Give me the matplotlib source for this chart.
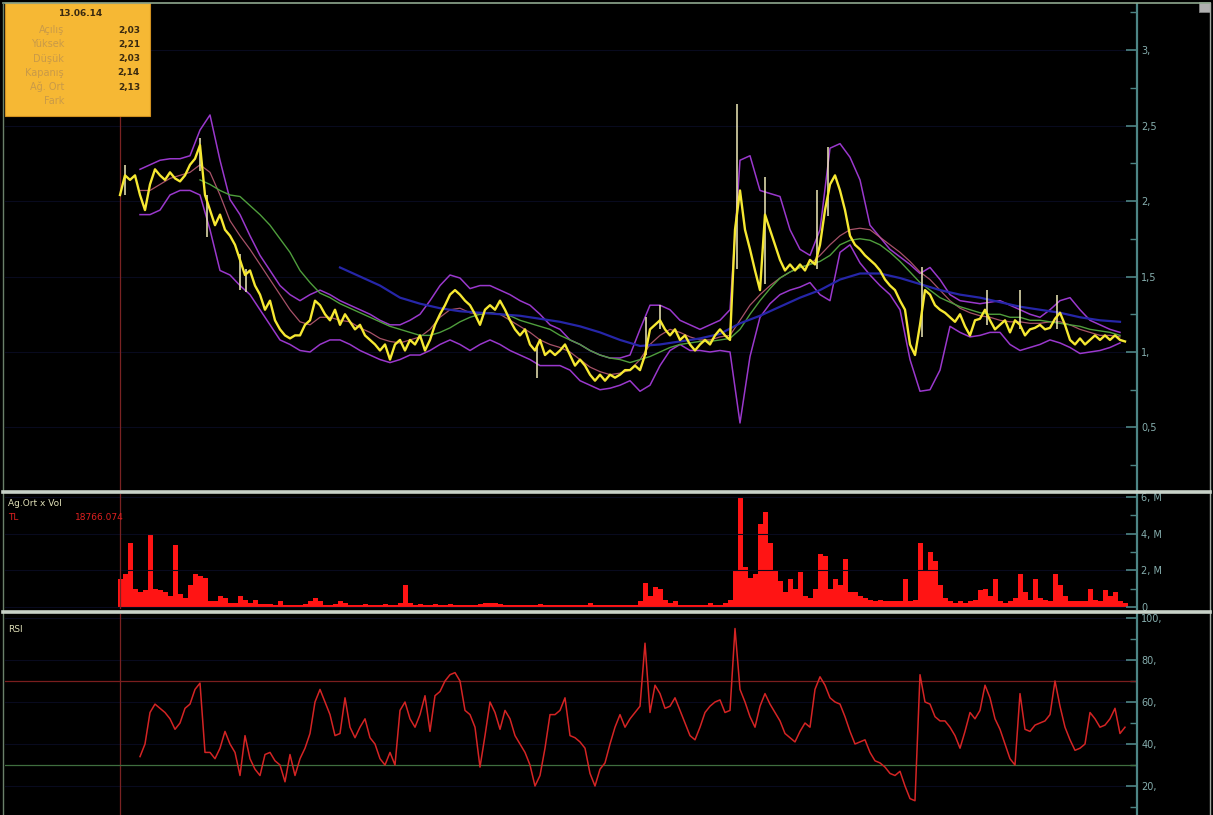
import numpy as np
import matplotlib
matplotlib.use('Agg')
import matplotlib.pyplot as plt
import matplotlib.transforms as mtransforms
from matplotlib.patches import Rectangle
from matplotlib.lines import Line2D
from matplotlib.ticker import MultipleLocator, FuncFormatter

# ---------------- data ----------------
# closing price, one sample every 5 bars starting at bar 0
close = [
    2.04, 2.17, 2.14, 2.17, 2.04, 1.94, 2.11, 2.21, 2.17, 2.14,
    2.19, 2.15, 2.13, 2.17, 2.24, 2.28, 2.37, 2.04, 1.94, 1.84,
    1.91, 1.81, 1.77, 1.71, 1.61, 1.51, 1.54, 1.44, 1.38, 1.28,
    1.34, 1.21, 1.15, 1.11, 1.09, 1.11, 1.11, 1.18, 1.21, 1.34,
    1.31, 1.25, 1.21, 1.28, 1.18, 1.25, 1.20, 1.15, 1.18, 1.11,
    1.08, 1.05, 1.01, 1.05, 0.95, 1.05, 1.08, 1.01, 1.08, 1.05,
    1.11, 1.01, 1.08, 1.18, 1.25, 1.31, 1.38, 1.41, 1.38, 1.34,
    1.31, 1.25, 1.18, 1.28, 1.31, 1.28, 1.34, 1.28, 1.21, 1.15,
    1.11, 1.15, 1.05, 1.01, 1.08, 0.98, 1.01, 0.98, 1.01, 1.05,
    0.98, 0.91, 0.95, 0.91, 0.85, 0.81, 0.85, 0.81, 0.85, 0.83,
    0.85, 0.88, 0.88, 0.91, 0.88, 0.98, 1.15, 1.18, 1.21, 1.15,
    1.11, 1.15, 1.08, 1.11, 1.05, 1.01, 1.05, 1.08, 1.05, 1.11,
    1.15, 1.11, 1.08, 1.81, 2.07, 1.81, 1.68, 1.54, 1.41, 1.91,
    1.81, 1.71, 1.61, 1.54, 1.58, 1.54, 1.58, 1.54, 1.61, 1.58,
    1.71, 1.94, 2.11, 2.17, 2.07, 1.94, 1.77, 1.71, 1.68, 1.64,
    1.61, 1.58, 1.54, 1.48, 1.44, 1.41, 1.34, 1.28, 1.05, 0.98,
    1.18, 1.41, 1.38, 1.31, 1.28, 1.26, 1.23, 1.20, 1.25, 1.17,
    1.11, 1.21, 1.22, 1.28, 1.21, 1.15, 1.18, 1.21, 1.13, 1.21,
    1.18, 1.11, 1.15, 1.16, 1.18, 1.15, 1.16, 1.22, 1.26, 1.18,
    1.08, 1.05, 1.09, 1.05, 1.08, 1.11, 1.08, 1.11, 1.08, 1.11,
    1.08, 1.07,
]
CLOSE_STEP = 5

# high / low wicks of notable bars
wick_bar = [5, 80, 87, 120, 126, 417, 526, 540, 617, 645, 697, 708, 802, 867, 900, 937]
wick_low = [2.04, 2.20, 1.76, 1.41, 1.40, 0.83, 0.98, 1.15, 1.55, 1.45, 1.55, 1.90, 1.10, 1.18, 1.15, 1.15]
wick_high = [2.24, 2.42, 2.04, 1.65, 1.55, 1.03, 1.23, 1.31, 2.64, 2.16, 2.07, 2.36, 1.56, 1.41, 1.41, 1.38]

# Bollinger bands, every 10 bars starting at bar 20
boll_upper = [
    2.21, 2.24, 2.27, 2.28, 2.28, 2.30, 2.47, 2.57, 2.27, 2.01,
    1.91, 1.77, 1.64, 1.54, 1.44, 1.38, 1.34, 1.38, 1.41, 1.38,
    1.34, 1.31, 1.28, 1.25, 1.21, 1.18, 1.18, 1.21, 1.25, 1.34,
    1.44, 1.51, 1.49, 1.42, 1.44, 1.44, 1.41, 1.38, 1.34, 1.31,
    1.25, 1.18, 1.15, 1.08, 1.05, 1.01, 0.98, 0.96, 0.96, 0.98,
    1.15, 1.31, 1.31, 1.28, 1.21, 1.18, 1.15, 1.18, 1.21, 1.28,
    2.27, 2.30, 2.07, 2.05, 2.03, 1.81, 1.68, 1.64, 1.81, 2.35,
    2.38, 2.29, 2.14, 1.84, 1.76, 1.68, 1.63, 1.58, 1.52, 1.56,
    1.48, 1.38, 1.34, 1.33, 1.32, 1.33, 1.34, 1.31, 1.28, 1.25,
    1.23, 1.28, 1.34, 1.36, 1.28, 1.21, 1.18, 1.15, 1.13,
]
boll_lower = [
    1.91, 1.91, 1.94, 2.04, 2.07, 2.07, 2.04, 1.81, 1.54, 1.51,
    1.44, 1.38, 1.28, 1.18, 1.08, 1.05, 1.01, 1.00, 1.05, 1.08,
    1.08, 1.05, 1.01, 0.98, 0.95, 0.93, 0.95, 0.98, 0.98, 1.01,
    1.05, 1.08, 1.05, 1.01, 1.05, 1.08, 1.05, 1.01, 0.98, 0.95,
    0.91, 0.91, 0.91, 0.88, 0.81, 0.78, 0.75, 0.76, 0.78, 0.81,
    0.74, 0.78, 0.91, 1.01, 1.05, 1.01, 1.01, 1.00, 1.01, 1.00,
    0.53, 0.97, 1.23, 1.32, 1.38, 1.41, 1.43, 1.46, 1.38, 1.34,
    1.66, 1.71, 1.59, 1.51, 1.44, 1.38, 1.28, 0.95, 0.74, 0.75,
    0.88, 1.17, 1.13, 1.10, 1.11, 1.13, 1.13, 1.05, 1.01, 1.03,
    1.05, 1.08, 1.06, 1.03, 0.99, 1.00, 1.01, 1.03, 1.06,
]
boll_mid = [
    2.07, 2.07, 2.11, 2.15, 2.17, 2.19, 2.24, 2.19, 2.04, 1.87,
    1.77, 1.68, 1.58, 1.48, 1.38, 1.28, 1.20, 1.18, 1.23, 1.23,
    1.21, 1.20, 1.16, 1.13, 1.09, 1.07, 1.06, 1.08, 1.10, 1.15,
    1.23, 1.28, 1.29, 1.26, 1.25, 1.26, 1.25, 1.21, 1.17, 1.13,
    1.08, 1.05, 1.03, 1.00, 0.95, 0.90, 0.87, 0.85, 0.86, 0.88,
    0.95, 1.05, 1.11, 1.15, 1.13, 1.10, 1.08, 1.08, 1.10, 1.11,
    1.21, 1.31, 1.38, 1.44, 1.49, 1.53, 1.56, 1.58, 1.64, 1.71,
    1.77, 1.81, 1.82, 1.81, 1.76, 1.71, 1.66, 1.60, 1.53, 1.48,
    1.41, 1.34, 1.29, 1.26, 1.24, 1.23, 1.21, 1.20, 1.20, 1.19,
    1.19, 1.20, 1.20, 1.18, 1.15, 1.13, 1.11, 1.11, 1.10,
]
BOLL_START, BOLL_STEP = 20, 10

# moving average (green), every 10 bars from bar 80
ma_mid = [
    2.14, 2.11, 2.07, 2.04, 2.03, 1.97, 1.91, 1.84, 1.75, 1.66,
    1.54, 1.46, 1.39, 1.36, 1.32, 1.29, 1.26, 1.23, 1.20, 1.17,
    1.15, 1.13, 1.11, 1.11, 1.13, 1.16, 1.20, 1.23, 1.25, 1.26,
    1.25, 1.24, 1.21, 1.19, 1.17, 1.15, 1.11, 1.08, 1.05, 1.01,
    0.98, 0.96, 0.95, 0.93, 0.95, 0.97, 1.00, 1.03, 1.05, 1.06,
    1.07, 1.07, 1.08, 1.09, 1.15, 1.25, 1.34, 1.42, 1.49, 1.53,
    1.56, 1.58, 1.60, 1.64, 1.71, 1.74, 1.75, 1.74, 1.71, 1.66,
    1.60, 1.53, 1.46, 1.41, 1.36, 1.33, 1.30, 1.28, 1.26, 1.25,
    1.25, 1.23, 1.23, 1.21, 1.21, 1.20, 1.19, 1.18, 1.17, 1.15,
    1.14, 1.13, 1.11,
]
MA_MID_START, MA_MID_STEP = 80, 10

# long moving average (blue), every 20 bars from bar 220
ma_long = [
    1.56, 1.50, 1.44, 1.36, 1.32, 1.29, 1.27, 1.26, 1.25, 1.24,
    1.22, 1.20, 1.17, 1.13, 1.08, 1.04, 1.05, 1.07, 1.09, 1.12,
    1.19, 1.24, 1.30, 1.36, 1.41, 1.48, 1.52, 1.52, 1.49, 1.45,
    1.41, 1.38, 1.36, 1.33, 1.30, 1.28, 1.26, 1.23, 1.21, 1.20,
]
MA_LONG_START, MA_LONG_STEP = 220, 20

# volume in millions, every 5 bars from bar 0
volume = [
    1.5, 1.8, 3.5, 1.0, 0.8, 0.9, 4.0, 1.0, 0.9, 0.8,
    0.6, 3.4, 0.7, 0.5, 1.2, 1.8, 1.7, 1.6, 0.3, 0.3,
    0.6, 0.5, 0.2, 0.2, 0.6, 0.4, 0.2, 0.4, 0.15, 0.15,
    0.15, 0.1, 0.3, 0.1, 0.1, 0.1, 0.1, 0.15, 0.3, 0.5,
    0.3, 0.1, 0.1, 0.15, 0.3, 0.2, 0.1, 0.1, 0.1, 0.15,
    0.1, 0.1, 0.1, 0.15, 0.1, 0.1, 0.2, 1.2, 0.2, 0.1,
    0.15, 0.1, 0.1, 0.15, 0.1, 0.1, 0.15, 0.1, 0.1, 0.1,
    0.1, 0.1, 0.15, 0.2, 0.2, 0.2, 0.15, 0.1, 0.1, 0.1,
    0.1, 0.1, 0.1, 0.1, 0.15, 0.1, 0.1, 0.1, 0.1, 0.1,
    0.1, 0.1, 0.1, 0.1, 0.2, 0.1, 0.1, 0.1, 0.1, 0.1,
    0.1, 0.1, 0.1, 0.1,
    0.3, 1.3, 0.6, 1.1, 1.0, 0.4, 0.2, 0.3, 0.1, 0.1,
    0.1, 0.1, 0.1, 0.1, 0.2, 0.1, 0.1, 0.2, 0.4, 2.0,
    6.0, 2.2, 1.6, 1.8, 4.5, 5.2, 3.5, 2.0, 1.4, 0.8,
    1.5, 1.0, 1.9, 0.6, 0.5, 1.0, 2.9, 2.8, 1.0, 1.5,
    1.2, 2.6, 0.8, 0.8, 0.6, 0.5, 0.4, 0.3, 0.4, 0.3,
    0.3, 0.3, 0.3, 1.5, 0.3, 0.4, 3.5, 2.0, 3.0, 2.5,
    1.2, 0.5, 0.3, 0.2, 0.3, 0.2, 0.3, 0.4, 0.9, 1.0,
    0.6, 1.5, 0.3, 0.2, 0.3, 0.5, 1.8, 0.8, 0.4, 1.5,
    0.5, 0.4, 0.3, 1.8, 1.2, 0.6, 0.3, 0.3, 0.3, 0.3,
    1.0, 0.4, 0.3, 0.9, 0.6, 0.8, 0.3, 0.2,
]
VOL_STEP = 5

# RSI, every 5 bars from bar 20
rsi = [
    34, 40, 55, 59, 57, 55, 52, 47, 50, 57,
    59, 66, 69, 36, 36, 33, 38, 46, 40, 36,
    25, 44, 33, 28, 25, 35, 36, 32, 30, 22,
    35, 25, 33, 38, 45, 60, 66, 60, 54, 44,
    45, 62, 48, 43, 48, 52, 43, 40, 33, 30,
    36, 30, 56, 60, 52, 48, 54, 63, 46, 63,
    65, 70, 73, 74, 70, 56, 54, 48, 29, 44,
    60, 55, 47, 56, 52, 44, 40, 36, 30, 20,
    25, 38, 54, 54, 56, 62, 44, 43, 41, 38,
    26, 20, 28, 31, 40, 48, 54, 48, 52, 55,
    58, 88, 55, 68, 64, 57, 58, 62, 56, 50,
    44, 42, 48, 55, 58, 60, 61, 55, 56, 95,
    66, 60, 53, 48, 58, 64, 59, 55, 51, 45,
    43, 41, 46, 50, 48, 66, 72, 68, 62, 60,
    59, 53, 46, 40, 41, 42, 36, 32, 31, 29,
    26, 25, 27, 20, 14, 13, 73, 60, 59, 53,
    51, 51, 48, 44, 38, 46, 55, 52, 56, 68,
    62, 52, 47, 40, 33, 30, 64, 47, 46, 49,
    50, 51, 54, 70, 58, 48, 42, 37, 38, 40,
    55, 52, 48, 49, 52, 57, 45, 48,
]
RSI_START, RSI_STEP = 20, 5
RSI_UPPER, RSI_LOWER = 70, 30

info_date = "13.06.14"
info_labels = ["Açılış", "Yüksek", "Düşük", "Kapanış", "Ağ. Ort", "Fark"]
info_values = ["2,03", "2,21", "2,03", "2,14", "2,13", ""]

# ---------------- figure ----------------
W, H = 1213, 815
fig = plt.figure(figsize=(W / 100, H / 100), dpi=100, facecolor='black')


def rect(x0, y0, x1, y1):
    return [x0 / W, 1 - y1 / H, (x1 - x0) / W, (y1 - y0) / H]


ax_main = fig.add_axes(rect(5, 4, 1137, 490))
ax_vol = fig.add_axes(rect(5, 494, 1137, 609), sharex=ax_main)
ax_rsi = fig.add_axes(rect(5, 614, 1137, 815), sharex=ax_main)

AXIS_C = '#4d8585'
LABEL_C = '#86aeae'
GRID_C = '#080a1e'

for ax in (ax_main, ax_vol, ax_rsi):
    ax.set_facecolor('black')
    for s in ('left', 'top', 'bottom'):
        ax.spines[s].set_visible(False)
    ax.spines['right'].set_color(AXIS_C)
    ax.spines['right'].set_linewidth(1.6)
    ax.yaxis.tick_right()
    ax.tick_params(axis='y', which='major', direction='in', length=8, width=1.2,
                   color=AXIS_C, labelcolor=LABEL_C, labelsize=7, pad=-1)
    ax.tick_params(axis='y', which='minor', direction='in', length=5, width=1.0,
                   color=AXIS_C)
    ax.tick_params(axis='x', which='both', bottom=False, labelbottom=False)
    ax.grid(True, axis='y', which='major', color=GRID_C, linewidth=0.8)
    ax.axvline(0, color='#7a2222', linewidth=0.9)

ax_main.set_xlim(-115, 1017)

# ----- main price panel -----
bx = BOLL_START + BOLL_STEP * np.arange(len(boll_upper))
ax_main.plot(bx, boll_upper, color='#9a38cc', linewidth=1.1)
ax_main.plot(bx, boll_lower, color='#9a38cc', linewidth=1.1)
ax_main.plot(bx, boll_mid, color='#c4607a', linewidth=0.9, alpha=0.85)
gx = MA_MID_START + MA_MID_STEP * np.arange(len(ma_mid))
ax_main.plot(gx, ma_mid, color='#4f9e3c', linewidth=1.0)
lx = MA_LONG_START + MA_LONG_STEP * np.arange(len(ma_long))
ax_main.plot(lx, ma_long, color='#2626a8', linewidth=1.6)
ax_main.vlines(wick_bar, wick_low, wick_high, color='#f0eab8', linewidth=1.1)
cx = CLOSE_STEP * np.arange(len(close))
ax_main.plot(cx, close, color='#f6e832', linewidth=1.7)

ax_main.set_ylim(0.086, 3.305)
ax_main.yaxis.set_major_locator(MultipleLocator(0.5))
ax_main.yaxis.set_minor_locator(MultipleLocator(0.25))


def price_fmt(v, pos):
    if v <= 0.1:
        return ''
    if abs(v - round(v)) < 1e-6:
        return f"{int(round(v))},"
    return f"{v:.1f}".replace('.', ',')


ax_main.yaxis.set_major_formatter(FuncFormatter(price_fmt))

# ----- volume panel -----
vx = VOL_STEP * np.arange(len(volume))
ax_vol.bar(vx, volume, width=VOL_STEP, color='#ff1414', linewidth=0)
ax_vol.set_ylim(-0.11, 6.16)
ax_vol.yaxis.set_major_locator(MultipleLocator(2))
ax_vol.yaxis.set_minor_locator(MultipleLocator(1))
ax_vol.yaxis.set_major_formatter(
    FuncFormatter(lambda v, p: '0' if abs(v) < 1e-6 else (f"{int(v)}, M" if v > 0 else '')))

# ----- RSI panel -----
rx = RSI_START + RSI_STEP * np.arange(len(rsi))
ax_rsi.axhline(RSI_UPPER, color='#7a1e1e', linewidth=0.9)
ax_rsi.axhline(RSI_LOWER, color='#3f6e3f', linewidth=0.9)
ax_rsi.plot(rx, rsi, color='#d42424', linewidth=1.1)
ax_rsi.set_ylim(6.2, 101.9)
ax_rsi.yaxis.set_major_locator(MultipleLocator(20))
ax_rsi.yaxis.set_minor_locator(MultipleLocator(10))
ax_rsi.yaxis.set_major_formatter(FuncFormatter(lambda v, p: f"{int(v)}," if v > 0 else ''))

# shift tick labels right of the axis line
offset = mtransforms.ScaledTranslation(4 / 72, 0, fig.dpi_scale_trans)
for ax in (ax_main, ax_vol, ax_rsi):
    for lab in ax.get_yticklabels():
        lab.set_horizontalalignment('left')
        lab.set_transform(lab.get_transform() + offset)


# ----- frame, separators -----
def px_line(x0, y0, x1, y1, color, lw):
    fig.add_artist(Line2D([x0 / W, x1 / W], [1 - y0 / H, 1 - y1 / H],
                          transform=fig.transFigure, color=color, linewidth=lw))


px_line(3, 2.5, 1210, 2.5, '#8ea88e', 1.2)
px_line(3, 2.5, 3, 815, '#6a806a', 1.0)
px_line(1210, 2.5, 1210, 815, '#a0a8a0', 1.0)
px_line(3, 492, 1210, 492, '#c8d2c8', 2.6)
px_line(3, 612, 1210, 612, '#c8d2c8', 2.6)

fig.add_artist(Rectangle((1199 / W, 1 - 12 / H), 11 / W, 10 / H, transform=fig.transFigure,
                         facecolor='#b0b0b0', edgecolor='#808080', linewidth=0.6))

# ----- info box -----
fig.add_artist(Rectangle((5 / W, 1 - 116 / H), 145 / W, 113 / H, transform=fig.transFigure,
                         facecolor='#f6b834', edgecolor='#d09020', linewidth=0.8))
fig.text(80 / W, 1 - 14 / H, info_date, ha='center', va='center', fontsize=6.5,
         fontweight='bold', color='#3a2a10')
for i, (lab, val) in enumerate(zip(info_labels, info_values)):
    yy = 1 - (30 + 14.3 * i) / H
    fig.text(64 / W, yy, lab, ha='right', va='center', fontsize=7, color='#c99a48')
    if val:
        fig.text(140 / W, yy, val, ha='right', va='center', fontsize=6.5,
                 fontweight='bold', color='#3a2a10')

# ----- panel captions -----
fig.text(8 / W, 1 - 503 / H, "Ag.Ort x Vol", ha='left', va='center', fontsize=6.5, color='#e0e0b8')
fig.text(8 / W, 1 - 517 / H, "TL", ha='left', va='center', fontsize=6.5, color='#e02020')
fig.text(75 / W, 1 - 517 / H, "18766.074", ha='left', va='center', fontsize=6.5, color='#e02020')
fig.text(8 / W, 1 - 629 / H, "RSI", ha='left', va='center', fontsize=6.5, color='#e0e0b8')

fig.savefig('out.png', dpi=100, facecolor='black')
